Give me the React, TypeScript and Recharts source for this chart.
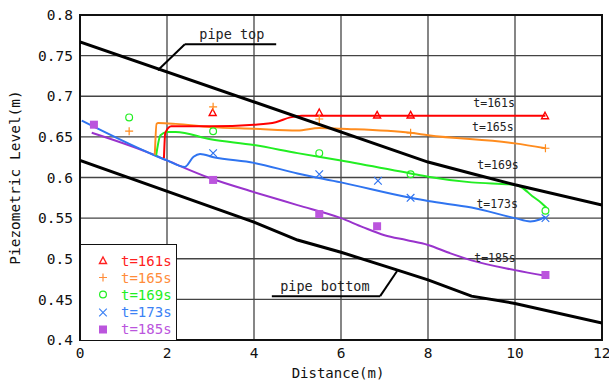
import { ComposedChart, Line, Scatter, XAxis, YAxis, CartesianGrid, ReferenceArea, ReferenceLine } from 'recharts';

const mono = '"DejaVu Sans Mono", "Liberation Mono", monospace';

const xTicks = [0, 2, 4, 6, 8, 10, 12];
const yTicks = [0.4, 0.45, 0.5, 0.55, 0.6, 0.65, 0.7, 0.75, 0.8];

// pipe crown / invert
const pipeTop = [
  { x: 0, y: 0.767 }, { x: 8, y: 0.619 }, { x: 9, y: 0.605 }, { x: 10, y: 0.591 }, { x: 12, y: 0.566 },
];
const pipeBottom = [
  { x: 0, y: 0.621 }, { x: 4, y: 0.545 }, { x: 5, y: 0.523 }, { x: 6, y: 0.508 }, { x: 7.3, y: 0.486 },
  { x: 8, y: 0.474 }, { x: 9, y: 0.454 }, { x: 10, y: 0.445 }, { x: 12, y: 0.421 },
];

// computed lines
const line161 = [
  { x: 1.93, y: 0.624 }, { x: 1.96, y: 0.655 }, { x: 2.1, y: 0.663 }, { x: 3, y: 0.663 }, { x: 4, y: 0.665 },
  { x: 4.5, y: 0.668 }, { x: 4.83, y: 0.674 }, { x: 5.1, y: 0.676 }, { x: 8, y: 0.676 }, { x: 10.7, y: 0.676 },
];
const line165 = [
  { x: 1.72, y: 0.628 }, { x: 1.76, y: 0.666 }, { x: 1.8, y: 0.667 }, { x: 2.2, y: 0.666 }, { x: 3, y: 0.662 },
  { x: 4, y: 0.66 }, { x: 5, y: 0.658 }, { x: 5.5, y: 0.661 }, { x: 6, y: 0.66 }, { x: 7.6, y: 0.655 },
  { x: 8, y: 0.652 }, { x: 10, y: 0.642 }, { x: 10.7, y: 0.636 },
];
const line169 = [
  { x: 1.75, y: 0.627 }, { x: 1.85, y: 0.652 }, { x: 2.0, y: 0.656 }, { x: 2.2, y: 0.656 }, { x: 3, y: 0.647 },
  { x: 4, y: 0.64 }, { x: 5, y: 0.63 }, { x: 6, y: 0.621 }, { x: 7.6, y: 0.605 }, { x: 8, y: 0.601 },
  { x: 9, y: 0.594 }, { x: 10, y: 0.591 }, { x: 10.15, y: 0.588 }, { x: 10.4, y: 0.577 }, { x: 10.6, y: 0.569 },
  { x: 10.72, y: 0.563 },
];
const line173 = [
  { x: 0.04, y: 0.67 }, { x: 1.6, y: 0.63 }, { x: 2, y: 0.621 }, { x: 2.41, y: 0.613 }, { x: 2.61, y: 0.6255 },
  { x: 2.76, y: 0.629 }, { x: 3.07, y: 0.625 }, { x: 4, y: 0.618 }, { x: 5, y: 0.605 }, { x: 6, y: 0.594 },
  { x: 7.6, y: 0.575 }, { x: 8, y: 0.571 }, { x: 9, y: 0.563 }, { x: 10, y: 0.55 }, { x: 10.35, y: 0.546 },
  { x: 10.55, y: 0.548 }, { x: 10.7, y: 0.552 },
];
const line185 = [
  { x: 0.27, y: 0.655 }, { x: 1.6, y: 0.63 }, { x: 2, y: 0.621 }, { x: 3, y: 0.599 }, { x: 4, y: 0.582 },
  { x: 5, y: 0.566 }, { x: 6, y: 0.55 }, { x: 6.5, y: 0.539 }, { x: 7, y: 0.529 }, { x: 7.5, y: 0.523 },
  { x: 8, y: 0.517 }, { x: 8.5, y: 0.507 }, { x: 9, y: 0.498 }, { x: 10, y: 0.486 }, { x: 10.7, y: 0.479 },
];

// measured points
const pts161 = [{ x: 3.05, y: 0.68 }, { x: 5.5, y: 0.68 }, { x: 6.83, y: 0.677 }, { x: 7.6, y: 0.677 }, { x: 10.69, y: 0.676 }];
const pts165 = [{ x: 1.13, y: 0.657 }, { x: 3.06, y: 0.687 }, { x: 5.5, y: 0.672 }, { x: 7.6, y: 0.655 }, { x: 10.7, y: 0.636 }];
const pts169 = [{ x: 1.13, y: 0.674 }, { x: 3.06, y: 0.657 }, { x: 5.5, y: 0.63 }, { x: 7.6, y: 0.604 }, { x: 10.7, y: 0.559 }];
const pts173 = [{ x: 3.06, y: 0.63 }, { x: 5.5, y: 0.604 }, { x: 6.85, y: 0.596 }, { x: 7.6, y: 0.575 }, { x: 10.7, y: 0.55 }];
const pts185 = [{ x: 0.32, y: 0.665 }, { x: 3.06, y: 0.597 }, { x: 5.5, y: 0.555 }, { x: 6.83, y: 0.54 }, { x: 10.7, y: 0.48 }];

const timeNotes = [
  { x: 9.52, y: 0.692, text: 't=161s' },
  { x: 9.49, y: 0.662, text: 't=165s' },
  { x: 9.61, y: 0.615, text: 't=169s' },
  { x: 9.59, y: 0.568, text: 't=173s' },
  { x: 9.54, y: 0.501, text: 't=185s' },
];
const pipeNotes = [
  { x: 3.49, y: 0.777, text: 'pipe top' },
  { x: 5.63, y: 0.466, text: 'pipe bottom' },
];

const C = {
  red: '#ff0000', orange: '#ff8c1e', green: '#22ee22', blue: '#2f74f0', purple: '#9933cc', square: '#bb55dd',
};

const legendRows = [
  { name: 't=161s', color: '#ff2020', mark: 'tri' },
  { name: 't=165s', color: '#ff8c3a', mark: 'plus' },
  { name: 't=169s', color: '#22ee22', mark: 'circle' },
  { name: 't=173s', color: '#3c82f5', mark: 'x' },
  { name: 't=185s', color: '#bb55dd', mark: 'square' },
];

function Mark({ kind, cx, cy, color }: { kind: string; cx: number; cy: number; color: string }) {
  if (kind === 'tri') return <path d={`M${cx},${cy - 3.5}L${cx + 3.5},${cy + 3}L${cx - 3.5},${cy + 3}Z`} fill="none" stroke={color} strokeWidth={1.4} />;
  if (kind === 'plus') return <path d={`M${cx - 4},${cy}H${cx + 4}M${cx},${cy - 4}V${cy + 4}`} stroke={color} strokeWidth={1.2} />;
  if (kind === 'circle') return <circle cx={cx} cy={cy} r={3.4} fill="none" stroke={color} strokeWidth={1.2} />;
  if (kind === 'x') return <path d={`M${cx - 3.8},${cy - 3.8}L${cx + 3.8},${cy + 3.8}M${cx + 3.8},${cy - 3.8}L${cx - 3.8},${cy + 3.8}`} stroke={color} strokeWidth={1.2} />;
  return <rect x={cx - 4} y={cy - 4} width={8} height={8} fill={color} />;
}

const markShape = (kind: string, color: string) => (p: any) => <Mark kind={kind} cx={p.cx} cy={p.cy} color={color} />;

const textShape = (size: number) => (p: any) => (
  <text x={p.cx} y={p.cy} textAnchor="middle" dominantBaseline="central" fontSize={size} fontFamily={mono} fill="#222">
    {p.payload.text}
  </text>
);

function Legend() {
  return (
    <div style={{ position: 'absolute', left: 80, top: 244, width: 95, height: 95, background: '#fff', border: '1.5px solid #111', fontFamily: mono, fontSize: 14 }}>
      {legendRows.map((r, i) => (
        <div key={r.name} style={{ position: 'absolute', left: 0, top: 7 + i * 17.2, height: 17, display: 'flex', alignItems: 'center' }}>
          <svg width={40} height={17}>
            <Mark kind={r.mark} cx={22} cy={8.5} color={r.color} />
          </svg>
          <span style={{ color: r.color }}>{r.name}</span>
        </div>
      ))}
    </div>
  );
}

const fmt = (v: number) => String(Number(v.toFixed(2)));

export default function App() {
  const line = { type: 'monotone' as const, dataKey: 'y', dot: false, isAnimationActive: false, strokeWidth: 2 };
  return (
    <div style={{ position: 'absolute', left: 0, top: 0, width: 609, height: 385, background: '#fff' }}>
      <ComposedChart width={609} height={385} margin={{ top: 15, right: 7, left: 0, bottom: 0 }}>
        <CartesianGrid stroke="#444" strokeWidth={1.3} horizontalValues={yTicks} verticalValues={xTicks} />
        <XAxis
          type="number" dataKey="x" domain={[0, 12]} ticks={xTicks} height={45} axisLine={false} tickLine={false} tickSize={0} tickMargin={8}
          tick={{ fill: '#111', fontSize: 14.5, fontFamily: mono }} allowDataOverflow
          label={({ viewBox }: any) => (
            <text x={viewBox.x + viewBox.width / 2 - 3} y={373} textAnchor="middle" dominantBaseline="central" fontSize={14} fontFamily={mono} fill="#111">Distance(m)</text>
          )}
        />
        <YAxis
          type="number" domain={[0.4, 0.8]} ticks={yTicks} width={80} axisLine={false} tickLine={false} tickSize={0} tickMargin={7}
          tickFormatter={fmt} tick={{ fill: '#111', fontSize: 14.5, fontFamily: mono }} allowDataOverflow
          label={({ viewBox }: any) => {
            const cy = viewBox.y + viewBox.height / 2;
            return (
              <text x={15} y={cy} transform={`rotate(-90 15 ${cy})`} textAnchor="middle" dominantBaseline="central" fontSize={14.5} fontFamily={mono} fill="#111">Piezometric Level(m)</text>
            );
          }}
        />
        <Line {...line} data={line185} stroke={C.purple} />
        <Line {...line} data={line173} stroke={C.blue} />
        <Line {...line} data={line169} stroke={C.green} />
        <Line {...line} data={line165} stroke={C.orange} />
        <Line {...line} data={line161} stroke={C.red} />
        <Line type="linear" dataKey="y" data={pipeTop} stroke="#000" strokeWidth={3} dot={false} isAnimationActive={false} />
        <Line type="linear" dataKey="y" data={pipeBottom} stroke="#000" strokeWidth={3} dot={false} isAnimationActive={false} />
        <ReferenceLine segment={[{ x: 1.79, y: 0.732 }, { x: 2.41, y: 0.764 }]} stroke="#000" strokeWidth={2} />
        <ReferenceLine segment={[{ x: 2.41, y: 0.764 }, { x: 4.51, y: 0.764 }]} stroke="#000" strokeWidth={2} />
        <ReferenceLine segment={[{ x: 4.41, y: 0.454 }, { x: 6.9, y: 0.454 }]} stroke="#000" strokeWidth={2} />
        <ReferenceLine segment={[{ x: 6.9, y: 0.454 }, { x: 7.29, y: 0.485 }]} stroke="#000" strokeWidth={2} />
        <Scatter data={pts161} dataKey="y" shape={markShape('tri', C.red)} isAnimationActive={false} />
        <Scatter data={pts165} dataKey="y" shape={markShape('plus', C.orange)} isAnimationActive={false} />
        <Scatter data={pts169} dataKey="y" shape={markShape('circle', C.green)} isAnimationActive={false} />
        <Scatter data={pts173} dataKey="y" shape={markShape('x', C.blue)} isAnimationActive={false} />
        <Scatter data={pts185} dataKey="y" shape={markShape('square', C.square)} isAnimationActive={false} />
        <Scatter data={timeNotes} dataKey="y" shape={textShape(11.5)} isAnimationActive={false} />
        <Scatter data={pipeNotes} dataKey="y" shape={textShape(13.5)} isAnimationActive={false} />
        <ReferenceArea x1={0} x2={12} y1={0.4} y2={0.8} fill="none" stroke="#111" strokeWidth={2} />
      </ComposedChart>
      <Legend />
    </div>
  );
}
